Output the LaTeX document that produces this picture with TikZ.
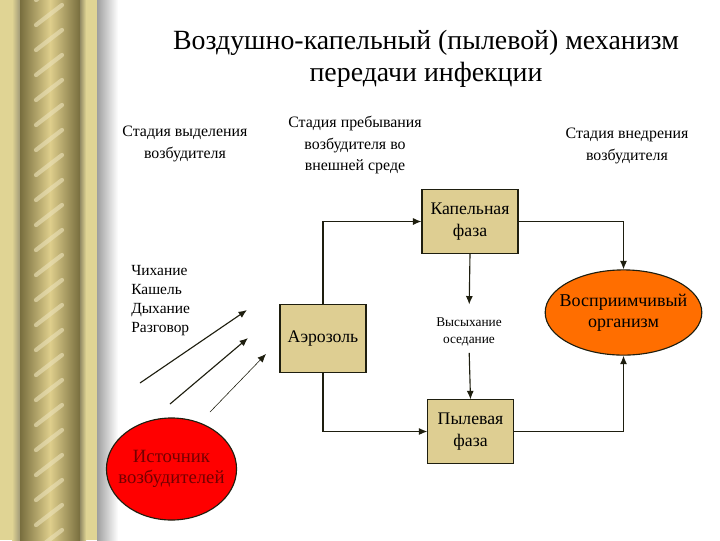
\documentclass[tikz,border=0pt]{standalone}
\usepackage{fontspec}
\setmainfont{Liberation Serif}
\usepackage{tikz}
\usetikzlibrary{arrows.meta}
\usetikzlibrary{shapes.geometric,positioning}
\definecolor{boxtan}{RGB}{222,206,146}
\definecolor{orgorange}{RGB}{255,110,0}
\definecolor{srcred}{RGB}{255,0,0}
\definecolor{ropedark}{RGB}{120,110,62}
\definecolor{ropelight}{RGB}{222,206,140}
\definecolor{edgetan}{RGB}{224,212,148}
\definecolor{linecol}{RGB}{30,30,15}

\tikzset{
  box/.style={draw=linecol,fill=boxtan,thick,inner sep=2pt,align=center,
    font=\fontsize{12.6}{15.5}\selectfont},
  oval/.style={ellipse,draw=linecol,thick,inner sep=-6pt,align=center,
    font=\fontsize{12.8}{14.8}\selectfont},
  stage/.style={align=center,font=\fontsize{11.3}{15.6}\selectfont},
  arr/.style={thick,linecol,-{Latex[length=6pt,width=5pt]}}
}

\begin{document}
\begin{tikzpicture}[x=0.025cm,y=-0.025cm]
    \useasboundingbox (0,0) rectangle (720,540);

    % левая рамка
    \fill[edgetan] (0,0) rectangle (97,540);
    \shade[left color=edgetan,right color=ropedark!70] (12,0) rectangle (20,540);
    \shade[left color=ropedark,right color=ropedark,middle color=ropelight] (20,0) rectangle (80,540);
    \foreach \y in {-20,5,...,560}
      \draw[line width=3pt,ropelight!60!white,opacity=.6,line cap=round] (36,\y+20) -- (62,\y);
    \shade[left color=ropedark!80,right color=edgetan] (80,0) rectangle (86,540);
    \shade[left color=gray!75,right color=white] (97,0) rectangle (118,540);

    % заголовок
    \node[align=center,font=\fontsize{19.8}{23}\selectfont] (title) at (426,59)
      {Воздушно-капельный (пылевой) механизм\\передачи инфекции};

    % стадии
    \node[stage] (st1) at (185,144) {Стадия выделения\\возбудителя};
    \node[stage] (st2) at (355,145) {Стадия пребывания\\возбудителя во\\внешней среде};
    \node[stage] (st3) at (627,146) {Стадия внедрения\\возбудителя};

    % фазы
    \node[box,minimum width=2.4cm,minimum height=1.58cm] (kap) at (470,221.5) {Капельная\\фаза};
    \node[box,minimum width=2.15cm,minimum height=1.72cm] (aer) at (323,338.5) {Аэрозоль};
    \node[box,minimum width=2.13cm,minimum height=1.58cm] (pyl) at (470.5,431.5) {Пылевая\\фаза};
    \node[align=center,font=\fontsize{9.5}{12}\selectfont,inner sep=0pt] (vys) at (469,331.5) {Высыхание\\оседание};

    % организм и источник
    \node[oval,fill=orgorange,minimum width=3.82cm,minimum height=2.13cm] (vos) at (623.5,312.5)
      {Восприимчивый\\организм};
    \node[oval,fill=srcred,text=red!45!black,minimum width=3.22cm,minimum height=2.55cm,
      inner sep=-5pt,font=\fontsize{13.3}{15}\selectfont] (ist) at (171.5,469)
      {Источник\\возбудителей};

    \node[align=left,anchor=north west,font=\fontsize{11}{13.5}\selectfont,inner sep=0pt] (act) at (131,265)
      {Чихание\\Кашель\\Дыхание\\Разговор};

    % стрелки
    \draw[arr] (aer.north) |- (kap.west);
    \draw[arr] (aer.south) |- (pyl.west);
    \draw[arr] (kap.east) -| (vos.north);
    \draw[arr] (pyl.east) -| (vos.south);
    \draw[arr,shorten >=9pt] (kap.south) -- (vys.north);
    \draw[arr,shorten <=5pt] (vys.south) -- (pyl.north);

    \path (140,383) coordinate (a1s) (247,310) coordinate (a1e)
          (170,404) coordinate (a2s) (248,338) coordinate (a2e)
          (210,412) coordinate (a3s) (266,354) coordinate (a3e);
    \draw[arr] (a1s) -- (a1e);
    \draw[arr] (a2s) -- (a2e);
    \draw[arr,thin] (a3s) -- (a3e);

\end{tikzpicture}
\end{document}
